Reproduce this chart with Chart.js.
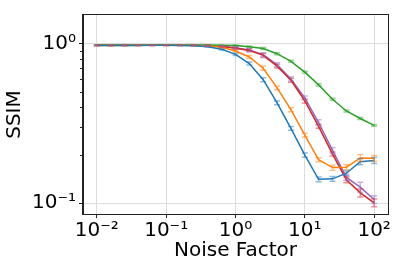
<!DOCTYPE html>
<html>
<head>
<meta charset="utf-8">
<script src="https://cdn.jsdelivr.net/npm/chart.js@4/dist/chart.umd.min.js"></script>
<style>
  html, body { margin: 0; padding: 0; background: #fff; }
  #ssimChart { display: block; }
</style>
</head>
<body>
<canvas id="ssimChart" width="415" height="264"></canvas>
<script>
// noise factors (x), 5 points per decade
const noiseFactors = [0.01, 0.0158, 0.0251, 0.0398, 0.0631, 0.1, 0.158, 0.251, 0.398, 0.631,
    1, 1.58, 2.51, 3.98, 6.31, 10, 15.8, 25.1, 39.8, 63.1, 100];

const blueSsim = [0.972, 0.972, 0.973, 0.974, 0.975, 0.975, 0.974, 0.970, 0.956, 0.920,
    0.855, 0.750, 0.594, 0.425, 0.294, 0.200, 0.141, 0.142, 0.154, 0.182, 0.185];
const orangeSsim = [0.973, 0.973, 0.974, 0.975, 0.976, 0.976, 0.976, 0.974, 0.966, 0.948,
    0.898, 0.824, 0.700, 0.528, 0.385, 0.267, 0.187, 0.167, 0.168, 0.192, 0.191];
const greenSsim = [0.978, 0.978, 0.978, 0.979, 0.979, 0.979, 0.979, 0.979, 0.978, 0.977,
    0.972, 0.954, 0.931, 0.864, 0.774, 0.662, 0.551, 0.448, 0.378, 0.339, 0.307];
const redSsim = [0.976, 0.976, 0.976, 0.977, 0.977, 0.977, 0.977, 0.975, 0.970, 0.960,
    0.935, 0.906, 0.843, 0.722, 0.589, 0.437, 0.303, 0.203, 0.140, 0.116, 0.1005];
const purpleSsim = [0.976, 0.976, 0.976, 0.977, 0.977, 0.977, 0.977, 0.976, 0.971, 0.962,
    0.940, 0.912, 0.852, 0.736, 0.600, 0.456, 0.320, 0.214, 0.145, 0.126, 0.1054];

// error bar half heights
const blueErr = [0.003, 0.003, 0.003, 0.003, 0.003, 0.003, 0.003, 0.004, 0.006, 0.009,
    0.012, 0.016, 0.017, 0.012, 0.008, 0.006, 0.005, 0.005, 0.0055, 0.0077, 0.0079];
const orangeErr = [0.003, 0.003, 0.003, 0.003, 0.003, 0.003, 0.003, 0.003, 0.005, 0.008,
    0.013, 0.0175, 0.02, 0.015, 0.011, 0.0076, 0.0053, 0.006, 0.006, 0.0095, 0.008];
const greenErr = [0.002, 0.002, 0.002, 0.002, 0.002, 0.002, 0.002, 0.002, 0.002, 0.002,
    0.007, 0.013, 0.013, 0.012, 0.011, 0.009, 0.008, 0.006, 0.005, 0.005, 0.004];
const redErr = [0.003, 0.003, 0.003, 0.003, 0.003, 0.003, 0.003, 0.003, 0.005, 0.008,
    0.013, 0.019, 0.024, 0.02, 0.017, 0.0124, 0.0086, 0.0058, 0.006, 0.0066, 0.0057];
const purpleErr = [0.003, 0.003, 0.003, 0.003, 0.003, 0.003, 0.003, 0.003, 0.005, 0.008,
    0.013, 0.019, 0.024, 0.021, 0.017, 0.013, 0.0136, 0.009, 0.006, 0.009, 0.006];

const xTicks = [0.01, 0.1, 1, 10, 100];
const yTicks = [0.1, 1];
const yMinorTicks = [0.2, 0.3, 0.4, 0.5, 0.6, 0.7, 0.8, 0.9];

const sup = { '-': '\u207B', '0': '\u2070', '1': '\u00B9', '2': '\u00B2', '3': '\u00B3' };
function powLabel(v) {
    const e = Math.round(Math.log10(v));
    return '10' + String(e).split('').map(c => sup[c]).join('');
}

function series(values, errs, color) {
    return {
        data: noiseFactors.map((x, i) => ({ x: x, y: values[i] })),
        errs: errs,
        borderColor: color,
        backgroundColor: color,
        borderWidth: 1.5,
        pointRadius: 0,
        tension: 0,
    };
}

// error bars, outer frame and minor y ticks
const extras = {
    id: 'extras',
    afterDatasetsDraw(chart) {
        const ctx = chart.ctx;
        const xs = chart.scales.x, ys = chart.scales.y;
        ctx.save();
        chart.data.datasets.forEach(ds => {
            ctx.strokeStyle = ds.borderColor;
            ctx.globalAlpha = 0.5;
            ctx.lineWidth = 1.5;
            ds.data.forEach((p, i) => {
                const px = xs.getPixelForValue(p.x);
                const top = ys.getPixelForValue(p.y + ds.errs[i]);
                const bot = ys.getPixelForValue(p.y - ds.errs[i]);
                ctx.beginPath();
                ctx.moveTo(px, top); ctx.lineTo(px, bot);
                ctx.moveTo(px - 3, top); ctx.lineTo(px + 3, top);
                ctx.moveTo(px - 3, bot); ctx.lineTo(px + 3, bot);
                ctx.stroke();
            });
        });
        ctx.restore();
    },
    afterDraw(chart) {
        const ctx = chart.ctx;
        const a = chart.chartArea;
        const ys = chart.scales.y;
        ctx.save();
        ctx.strokeStyle = '#222';
        ctx.lineWidth = 1;
        ctx.strokeRect(a.left - 0.5, a.top - 0.5, a.right - a.left + 1, a.bottom - a.top + 1);
        ctx.beginPath();
        yMinorTicks.forEach(v => {
            const py = Math.round(ys.getPixelForValue(v)) + 0.5;
            ctx.moveTo(a.left - 0.5, py); ctx.lineTo(a.left - 3, py);
        });
        ctx.stroke();
        ctx.restore();
    }
};

const ctx = document.getElementById('ssimChart').getContext('2d');
const ssimChart = new Chart(ctx, {
    type: 'line',
    data: {
        datasets: [
            series(blueSsim, blueErr, '#1f77b4'),
            series(orangeSsim, orangeErr, '#ff7f0e'),
            series(greenSsim, greenErr, '#2ca02c'),
            series(redSsim, redErr, '#d62728'),
            series(purpleSsim, purpleErr, '#9467bd'),
        ],
    },
    options: {
        responsive: false,
        animation: false,
        layout: { padding: { top: 12, right: 27, left: 0, bottom: 0 } },
        plugins: { legend: { display: false }, tooltip: { enabled: false } },
        scales: {
            x: {
                type: 'logarithmic',
                min: 0.00631,
                max: 158.5,
                afterBuildTicks: s => { s.ticks = xTicks.map(v => ({ value: v })); },
                afterFit: s => { s.height = 50; },
                ticks: {
                    callback: v => powLabel(v),
                    font: { family: 'DejaVu Sans', size: 20 },
                    color: '#000',
                    padding: 1,
                    maxRotation: 0,
                    autoSkip: false,
                },
                grid: { color: '#dcdcdc', tickColor: '#222', tickLength: 4 },
                border: { color: '#222' },
                title: {
                    display: true,
                    text: 'Noise Factor',
                    font: { family: 'DejaVu Sans', size: 20 },
                    color: '#000',
                    padding: { top: 0, bottom: 1 },
                },
            },
            y: {
                type: 'logarithmic',
                min: 0.0855,
                max: 1.51,
                afterBuildTicks: s => { s.ticks = yTicks.map(v => ({ value: v })); },
                afterFit: s => { s.width = 83; },
                ticks: {
                    callback: v => powLabel(v),
                    font: { family: 'DejaVu Sans', size: 20 },
                    color: '#000',
                    padding: 3,
                    autoSkip: false,
                },
                grid: { color: '#dcdcdc', tickColor: '#222', tickLength: 4 },
                border: { color: '#222' },
                title: {
                    display: true,
                    text: 'SSIM',
                    font: { family: 'DejaVu Sans', size: 20 },
                    color: '#000',
                    padding: { top: 3, bottom: 0 },
                },
            },
        },
    },
    plugins: [extras],
});
</script>
</body>
</html>
